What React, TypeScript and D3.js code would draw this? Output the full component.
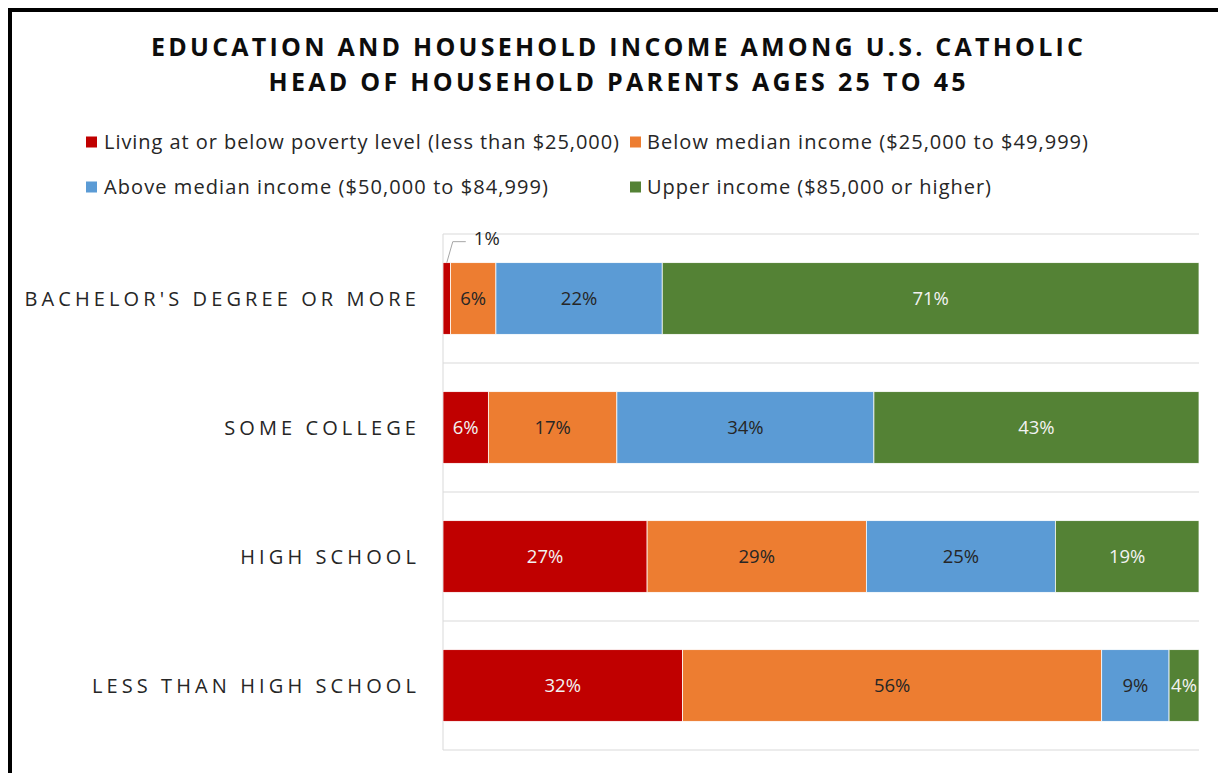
import React from "react";
import * as d3 from "d3";

const titleLines = [
  "EDUCATION AND HOUSEHOLD INCOME AMONG U.S. CATHOLIC",
  "HEAD OF HOUSEHOLD PARENTS AGES 25 TO 45",
];

const categories = [
  "BACHELOR'S DEGREE OR MORE",
  "SOME COLLEGE",
  "HIGH SCHOOL",
  "LESS THAN HIGH SCHOOL",
];

const seriesNames = [
  "Living at or below poverty level (less than $25,000)",
  "Below median income ($25,000 to $49,999)",
  "Above median income ($50,000 to $84,999)",
  "Upper income ($85,000 or higher)",
];

const povertyLevel = [1, 6, 27, 32];
const belowMedian = [6, 17, 29, 56];
const aboveMedian = [22, 34, 25, 9];
const upperIncome = [71, 43, 19, 4];

const seriesColors = ["#C00000", "#ED7D31", "#5B9BD5", "#548235"];
const labelColors = ["#F2F2F2", "#262626", "#262626", "#F2F2F2"];

const FONT = "'Open Sans', 'DejaVu Sans', sans-serif";

export default function App() {
  const W = 1218;
  const H = 773;
  const plot = { left: 443, right: 1199, top: 234, bottom: 750 };

  const keys = ["s0", "s1", "s2", "s3"];
  const seriesValues = [povertyLevel, belowMedian, aboveMedian, upperIncome];
  const rows = categories.map((c, i) => {
    const r: any = { category: c };
    keys.forEach((k, j) => (r[k] = seriesValues[j][i]));
    return r;
  });
  const stacked = d3.stack().keys(keys).offset(d3.stackOffsetExpand)(rows);

  const x = d3.scaleLinear().domain([0, 1]).range([plot.left, plot.right]);
  const y = d3
    .scaleBand()
    .domain(categories)
    .range([plot.top, plot.bottom])
    .paddingInner(0.8 / 1.8)
    .paddingOuter(0.4 / 1.8);
  const step = y.step();

  const legendPos = [
    { mx: 86, tx: 104, cy: 142, w: 515 },
    { mx: 630, tx: 647, cy: 142, w: 441 },
    { mx: 86, tx: 104, cy: 187, w: 444 },
    { mx: 630, tx: 647, cy: 187, w: 344 },
  ];

  return (
    <svg
      width={W}
      height={H}
      style={{ position: "absolute", left: 0, top: 0, display: "block" }}
      fontFamily={FONT}
    >
      <defs>
        <clipPath id="plotClip">
          <rect x={plot.left} y={plot.top} width={plot.right - plot.left} height={plot.bottom - plot.top} />
        </clipPath>
      </defs>
      <rect x={0} y={0} width={W} height={H} fill="#fff" />
      <rect x={10} y={10} width={1400} height={1000} fill="none" stroke="#000" strokeWidth={4} />

      {titleLines.map((t, i) => (
        <text
          key={i}
          x={617}
          y={56 + i * 35}
          textAnchor="middle"
          fontSize={25}
          fontWeight={700}
          fill="#0D0D0D"
          textLength={i === 0 ? 932 : 697}
          lengthAdjust="spacing"
        >
          {t}
        </text>
      ))}

      {seriesNames.map((n, i) => (
        <g key={n}>
          <rect
            x={legendPos[i].mx}
            y={legendPos[i].cy - 5.5}
            width={11}
            height={11}
            fill={seriesColors[i]}
          />
          <text
            x={legendPos[i].tx}
            y={legendPos[i].cy}
            dy="0.35em"
            fontSize={20}
            fill="#262626"
            textLength={legendPos[i].w}
            lengthAdjust="spacing"
          >
            {n}
          </text>
        </g>
      ))}

      {/* gridlines */}
      {d3.range(categories.length + 1).map((i) => (
        <line
          key={"g" + i}
          x1={plot.left}
          x2={plot.right}
          y1={plot.top + i * step}
          y2={plot.top + i * step}
          stroke="#D9D9D9"
          strokeWidth={1}
        />
      ))}
      <line x1={plot.left} x2={plot.left} y1={plot.top} y2={plot.bottom} stroke="#D9D9D9" strokeWidth={1} />

      {/* bars */}
      <g clipPath="url(#plotClip)">
        {stacked.map((s, si) =>
          s.map((d: any, ci) => (
            <rect
              key={si + "-" + ci}
              x={x(d[0])}
              y={y(categories[ci])}
              width={x(d[1]) - x(d[0])}
              height={y.bandwidth()}
              fill={seriesColors[si]}
              stroke="#fff"
              strokeWidth={0.75}
            />
          ))
        )}
      </g>

      {/* data labels */}
      {stacked.map((s, si) =>
        s.map((d: any, ci) => {
          const v = seriesValues[si][ci];
          const x0 = x(d[0]);
          const x1 = x(d[1]);
          const cx = (x0 + x1) / 2;
          const top = y(categories[ci])!;
          const cy = top + y.bandwidth() / 2;
          if (v < 3) {
            return (
              <g key={"l" + si + "-" + ci}>
                <polyline
                  points={`${cx},${top} ${cx + 6},${top - 21} ${cx + 19},${top - 21}`}
                  fill="none"
                  stroke="#A6A6A6"
                  strokeWidth={1}
                />
                <text x={cx + 40} y={top - 24} dy="0.35em" textAnchor="middle" fontSize={18.5} fill="#262626">
                  {v + "%"}
                </text>
              </g>
            );
          }
          return (
            <text
              key={"l" + si + "-" + ci}
              x={cx}
              y={cy}
              dy="0.35em"
              textAnchor="middle"
              fontSize={18.5}
              fill={labelColors[si]}
            >
              {v + "%"}
            </text>
          );
        })
      )}

      {/* category labels */}
      {categories.map((c) => (
        <text
          key={c}
          x={420}
          y={y(c)! + y.bandwidth() / 2}
          dy="0.35em"
          textAnchor="end"
          fontSize={20}
          letterSpacing={4.1}
          fill="#262626"
        >
          {c}
        </text>
      ))}
    </svg>
  );
}
